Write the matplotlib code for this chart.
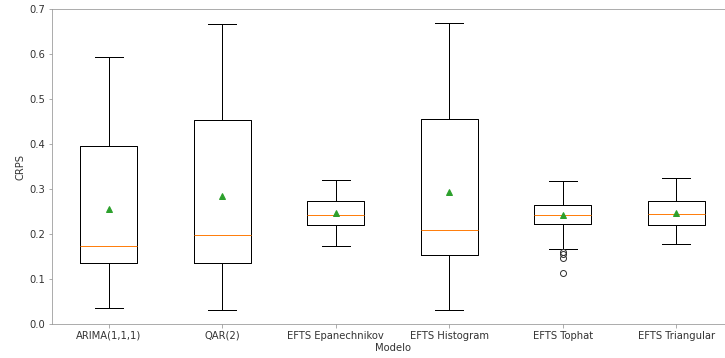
import matplotlib
matplotlib.use("Agg")
import matplotlib.pyplot as plt

modelos = ['ARIMA(1,1,1)', 'QAR(2)', 'EFTS Epanechnikov', 'EFTS Histogram',
           'EFTS Tophat', 'EFTS Triangular']
whislo = [0.035, 0.031, 0.174, 0.031, 0.167, 0.178]
q1 = [0.135, 0.136, 0.219, 0.153, 0.222, 0.219]
med = [0.173, 0.197, 0.243, 0.210, 0.243, 0.244]
q3 = [0.396, 0.453, 0.273, 0.456, 0.264, 0.273]
whishi = [0.594, 0.666, 0.319, 0.668, 0.317, 0.324]
media = [0.255, 0.284, 0.246, 0.293, 0.242, 0.247]
outliers = [[], [], [], [], [0.161, 0.156, 0.146, 0.113], []]

stats = []
for i, nome in enumerate(modelos):
    stats.append({'label': nome, 'whislo': whislo[i], 'q1': q1[i], 'med': med[i],
                  'q3': q3[i], 'whishi': whishi[i], 'mean': media[i],
                  'fliers': outliers[i]})

fig = plt.figure(figsize=(725 / 72, 358 / 72), dpi=72)
ax = fig.add_axes([52 / 725, 34 / 358, 681 / 725, 315 / 358])
ax.bxp(stats, showmeans=True,
       flierprops=dict(marker='o', markerfacecolor='none', markeredgecolor='#333333',
                       markersize=6))

ax.set_ylim(0, 0.7)
ax.set_xlabel('Modelo', color='#333333', labelpad=2)
ax.set_ylabel('CRPS', color='#333333')
for s in ax.spines.values():
    s.set_color('#999999')
ax.tick_params(colors='#999999', labelcolor='#333333')

fig.savefig('out.png', dpi=72)
